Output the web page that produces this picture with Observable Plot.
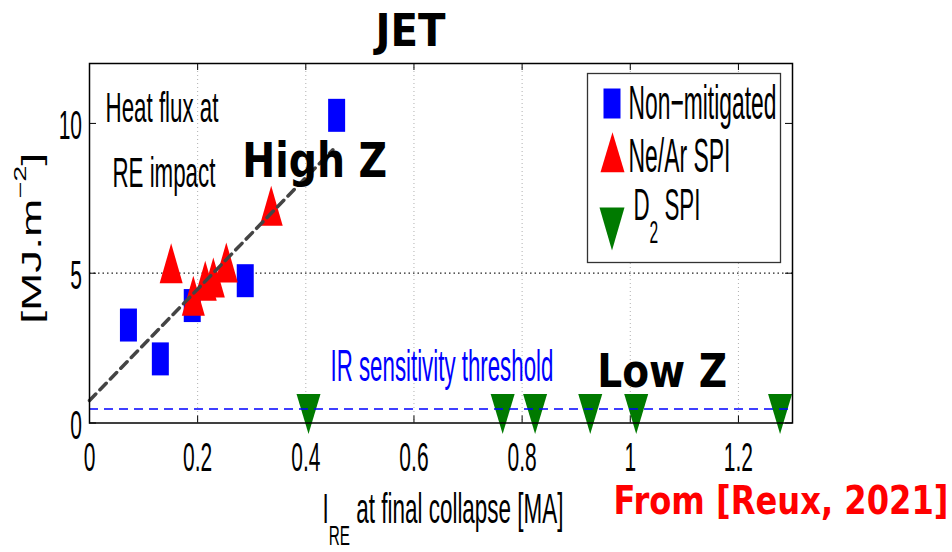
<!DOCTYPE html>
<html><head><meta charset="utf-8">
<script src="https://cdn.jsdelivr.net/npm/d3@7"></script>
<script src="https://cdn.jsdelivr.net/npm/@observablehq/plot@0.6"></script>
<style>
html,body{margin:0;padding:0;background:#fff;}
#chart{width:952px;height:552px;}
</style></head><body><div id="chart"></div>
<script>
// ---------------- data ----------------
const nonMitigatedX = [0.072, 0.131, 0.190, 0.288, 0.457];
const nonMitigatedY = [3.27, 2.14, 3.92, 4.75, 10.27];
const neArX = [0.151, 0.336, 0.192, 0.214, 0.229, 0.253];
const neArY = [5.33, 7.25, 4.25, 4.75, 4.86, 5.36];
const d2X = [0.405, 0.764, 0.824, 0.926, 1.011, 1.277];
const d2Y = [0.30, 0.30, 0.30, 0.30, 0.30, 0.30];
const fitX = [0, 0.45];
const fitY = [0.75, 9.12];
const thresholdY = [0.47];
const xTicks = [0, 0.2, 0.4, 0.6, 0.8, 1.0, 1.2];
const xTickLabels = ["0", "0.2", "0.4", "0.6", "0.8", "1", "1.2"];
const yTicks = [0, 5, 10];
const yTickLabels = ["0", "5", "10"];
const xGrid = [0.2, 0.4, 0.6, 0.8, 1.0, 1.2];
const yGrid = [5];
const legendLabels = ["Non\u2212mitigated", "Ne/Ar SPI", "D2 SPI"];
const legendColors = ["#0000ff", "#ff0000", "#007a00"];
const title = "JET";
const xLabelParts = ["I", "RE", " at final collapse [MA]"];
const yLabelParts = ["[MJ.m", "\u22122", "]"];
const notes = ["Heat flux at", "RE impact", "IR sensitivity threshold", "High Z", "Low Z", "From [Reux, 2021]"];

const zip = (xs, ys) => xs.map((x, i) => ({x, y: ys[i]}));
const nonMit = zip(nonMitigatedX, nonMitigatedY);
const neAr = zip(neArX, neArY);
const d2 = zip(d2X, d2Y);
const fit = zip(fitX, fitY);

// ---------------- layout ----------------
const W = 952, H = 552, mL = 89, mR = 160, mT = 63, mB = 129.5;
const fW = W - mL - mR, fH = H - mT - mB;

const rectSymbol = (w, h) => ({draw(c) { c.moveTo(-w/2, -h/2); c.lineTo(w/2, -h/2); c.lineTo(w/2, h/2); c.lineTo(-w/2, h/2); c.closePath(); }});
const triSymbol = (w, h, up) => ({draw(c) { const s = up ? 1 : -1; c.moveTo(0, -s*h/2); c.lineTo(w/2, s*h/2); c.lineTo(-w/2, s*h/2); c.closePath(); }});

const SANS = "Liberation Sans, Arial, Helvetica, sans-serif";
const BOLD = "DejaVu Sans, Verdana, sans-serif";

const txt = (s, o) => Plot.text([s], {text: d => d, lineAnchor: "bottom", textAnchor: "middle", fontFamily: SANS, fill: "#000", ...o});

const plot = Plot.plot({
  width: W, height: H,
  marginLeft: mL, marginRight: mR, marginTop: mT, marginBottom: mB,
  x: {domain: [0, 1.3], axis: null},
  y: {domain: [0, 12], axis: null},
  style: {background: "white", overflow: "visible"},
  marks: [
    Plot.ruleX(xGrid, {stroke: "#b0b0b0", strokeDasharray: "1,3", strokeWidth: 1}),
    Plot.ruleY(yGrid, {stroke: "#222", strokeDasharray: "1.5,3", strokeWidth: 1.2}),
    Plot.ruleX(xTicks, {insetTop: fH - 7, stroke: "#000", strokeWidth: 1}),
    Plot.ruleX(xTicks, {insetBottom: fH - 7, stroke: "#000", strokeWidth: 1}),
    Plot.ruleY(yTicks, {insetRight: fW - 7, stroke: "#000", strokeWidth: 1}),
    Plot.ruleY(yTicks, {insetLeft: fW - 7, stroke: "#000", strokeWidth: 1}),
    // legend box
    Plot.frame({insetLeft: 498, insetRight: 12, insetTop: 10, insetBottom: 160.5, fill: "white", stroke: "#333", strokeWidth: 1.3}),
    // data
    Plot.dot(nonMit, {x: "x", y: "y", symbol: rectSymbol(17, 33), fill: legendColors[0]}),
    Plot.dot(neAr, {x: "x", y: "y", symbol: triSymbol(23, 40, true), fill: legendColors[1]}),
    Plot.dot(d2, {x: "x", y: "y", symbol: triSymbol(24, 40, false), fill: legendColors[2]}),
    Plot.ruleY(thresholdY, {stroke: "#0000ff", strokeWidth: 1.5, strokeDasharray: "9,6"}),
    Plot.line(fit, {x: "x", y: "y", stroke: "#444", strokeWidth: 3.5, strokeDasharray: "9,6"}),
    // legend symbols
    Plot.dot([legendLabels[0]], {frameAnchor: "top-left", dx: 522.5, dy: 40, symbol: rectSymbol(17, 30), fill: legendColors[0]}),
    Plot.dot([legendLabels[1]], {frameAnchor: "top-left", dx: 523, dy: 88.7, symbol: triSymbol(24, 40, true), fill: legendColors[1]}),
    Plot.dot([legendLabels[2]], {frameAnchor: "top-left", dx: 522.5, dy: 165.6, symbol: triSymbol(25, 43, false), fill: legendColors[2]}),
    // legend labels
    txt(legendLabels[0], {frameAnchor: "top-left", dx: 539, dy: 55.3, textAnchor: "start", fontSize: 23}),
    txt(legendLabels[1], {frameAnchor: "top-left", dx: 539, dy: 108.7, textAnchor: "start", fontSize: 23}),
    txt(legendLabels[2], {frameAnchor: "top-left", dx: 544, dy: 156.3, textAnchor: "start", fontSize: 23}),
    // frame
    Plot.frame({stroke: "#000", strokeWidth: 1.5}),
    // tick labels
    Plot.text(xTicks, {x: d => d, text: (d, i) => xTickLabels[i], frameAnchor: "bottom", dy: 47.5, lineAnchor: "bottom", textAnchor: "middle", fontSize: 21, fontFamily: SANS, fill: "#000"}),
    Plot.text(yTicks, {y: d => d, text: (d, i) => yTickLabels[i], frameAnchor: "left", dx: -7.5, dy: 3, textAnchor: "end", fontSize: 21, fontFamily: SANS, fill: "#000"}),
    // axis labels
    txt(xLabelParts.join(""), {frameAnchor: "bottom", dx: 2, dy: 99.5, fontSize: 22}),
    txt(yLabelParts.join(""), {frameAnchor: "left", dx: -49, dy: -5, rotate: -90, fontSize: 27}),
    // annotations
    txt(notes[0], {frameAnchor: "top-left", dx: 72.5, dy: 58.7, fontSize: 22}),
    txt(notes[1], {frameAnchor: "top-left", dx: 74.4, dy: 123, fontSize: 22}),
    txt(notes[2], {frameAnchor: "top-left", dx: 241, dy: 317, textAnchor: "start", fontSize: 22, fill: "#0000ff"}),
    txt(notes[3], {frameAnchor: "top-left", dx: 225.2, dy: 113.7, fontSize: 40, fontWeight: "bold", fontFamily: BOLD}),
    txt(notes[4], {frameAnchor: "top-left", dx: 572.7, dy: 323.7, fontSize: 40, fontWeight: "bold", fontFamily: BOLD}),
    txt(notes[5], {frameAnchor: "top-left", dx: 691.5, dy: 450.3, fontSize: 30, fontWeight: "bold", fontFamily: BOLD, fill: "#ff0000"}),
    txt(title, {frameAnchor: "top-left", dx: 321, dy: -18, fontSize: 40, fontWeight: "bold", fontFamily: BOLD})
  ]
});

document.getElementById("chart").append(plot);

// ---------------- text shaping (sub/superscripts, stretched glyphs) ----------------
const NS = "http://www.w3.org/2000/svg";
function setParts(el, parts) {
  el.textContent = "";
  for (const [s, attrs] of parts) {
    const t = document.createElementNS(NS, "tspan");
    t.textContent = s;
    for (const k in attrs) t.setAttribute(k, attrs[k]);
    el.appendChild(t);
  }
}
const cfg = new Map([
  [title, {w: 70, sy: 1.13}],
  [notes[3], {w: 145, sy: 1.2}],
  [notes[4], {w: 130, sy: 1.15}],
  [notes[5], {w: 335, sy: 1.28}],
  [notes[0], {w: 113, sy: 1.9}],
  [notes[1], {w: 103, sy: 1.9}],
  [notes[2], {w: 223, sy: 2.0}],
  [legendLabels[0], {w: 148, sy: 2.1}],
  [legendLabels[1], {w: 102, sy: 2.1}],
  [legendLabels[2], {w: 67, sy: 1.95, parts: [["D", {}], ["2", {"font-size": "16px", dy: "11.7"}], [" SPI", {dy: "-11.7"}]]}],
  [xLabelParts.join(""), {w: 241, sy: 1.9, parts: [[xLabelParts[0], {}], [xLabelParts[1], {"font-size": "15px", dy: "12"}], [xLabelParts[2], {dy: "-12"}]]}],
  [yLabelParts.join(""), {w: 171, sy: 1, parts: [[yLabelParts[0], {}], [yLabelParts[1], {"font-size": "17px", dy: "-15"}], [yLabelParts[2], {dy: "15"}]]}]
]);
plot.querySelectorAll("text").forEach(el => {
  const c = cfg.get(el.textContent) || {sy: 1.9};
  if (c.parts) setParts(el, c.parts);
  const len = el.getComputedTextLength();
  const sx = c.w ? c.w / len : 1;
  const tr = el.getAttribute("transform") || "";
  el.setAttribute("transform", `${tr} scale(${sx},${c.sy})`);
});
</script>
</body></html>
